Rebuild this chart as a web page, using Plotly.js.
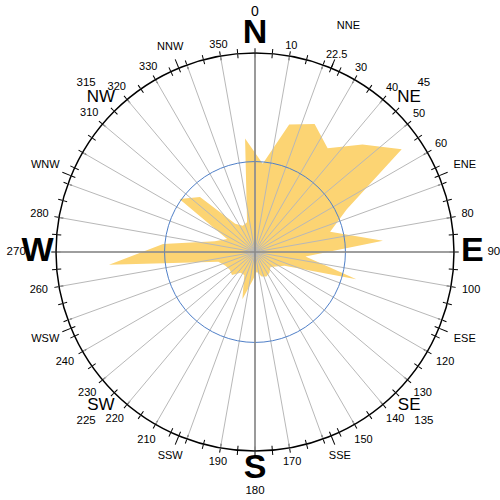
<!DOCTYPE html>
<html><head><meta charset="utf-8">
<script src="https://cdn.plot.ly/plotly-3.0.1.min.js"></script>
<style>html,body{margin:0;padding:0;background:#fff}</style>
</head><body><div id="chart" style="width:500px;height:500px"></div>
<script>
// ---- data ----
const directions = [5,15,25,35,45,55,65,75,85,95,105,115,125,135,145,155,165,175,
                    185,195,205,215,225,235,245,255,265,275,285,295,305,315,325,335,345,355];
const frequency  = [4.9,7.3,7.8,7.0,8.4,9.9,5.6,4.3,7.1,2.8,5.8,1.8,1.4,1.2,1.4,1.5,1.4,1.1,
                    1.6,2.7,1.4,1.4,1.8,1.7,1.8,2.1,8.1,5.1,2.3,1.7,5.1,4.3,1.9,1.6,1.7,6.3];
const cardinalNames  = ['N','E','S','W'];
const cardinalAngles = [0,90,180,270];
const interNames  = ['NE','SE','SW','NW'];
const interAngles = [45,135,225,315];
const vertNames  = ['NNW','SSE','SSW'];
const vertAngles = [337.5,157.5,202.5];
const horizNames  = ['ENE','ESE','WSW','WNW'];
const horizAngles = [67.5,112.5,247.5,292.5];
const nneName = ['NNE'];
const nneAngle = [22.5];
const northDegree = ['0'];
const northAngle = [0];
const degreeLabels = ['45','90','135','180','225','270','315'];
const degreeAngles = [45,90,135,180,225,270,315];
const labeledTicks = [10,22.5,30,40,50,60,80,100,120,130,140,150,170,190,210,220,230,240,260,280,310,320,330,350];
const longTickAngles = [22.5,67.5,112.5,157.5,202.5,247.5,292.5,337.5];
const refCircle = [5];
const rMax = 11;

// ---- derived tick sets ----
const fiveDeg = []; for (let a = 0; a < 360; a += 5) fiveDeg.push(a);
const tenDeg = []; for (let a = 0; a < 360; a += 10) tenDeg.push(a);
const tickOutVals = fiveDeg.concat([22.5]).sort((a,b)=>a-b);

const FONT = 'Arial, "Liberation Sans", sans-serif';
// main plot circle: centre (255,252), radius 199px
const PLOT_R_PX = 199;
const domain = {x:[0.112,0.908], y:[0.098,0.894]};
// label layer: same centre, radius 245px -> same radial scale, wider range
const labelDomain = {x:[0.02,1], y:[0,0.992]};
const pxPerUnit = PLOT_R_PX / rMax;
const labelRMax = 245 / pxPerUnit;

// numeric tick label placement: gap outside the ring grows with the text's width sideways
function tickLabelR(txt, ang) {
  const a = ang * Math.PI / 180;
  const px = 208 + (txt.length * 3 + 2) * Math.abs(Math.sin(a)) + 4 * Math.max(0, -Math.cos(a));
  return px / pxPerUnit;
}

function polarCfg(ang, rad, bg, dom, rmax) {
  return {
    domain: dom || domain,
    bgcolor: bg || 'rgba(0,0,0,0)',
    radialaxis: Object.assign({range:[0,rmax||rMax], showline:false, showticklabels:false, ticks:'', showgrid:false}, rad||{}),
    angularaxis: Object.assign({rotation:90, direction:'clockwise', showline:false, showgrid:false,
                                ticks:'', showticklabels:false, tickmode:'array'}, ang||{})
  };
}

function textTrace(names, angles, r, size, weight) {
  return {type:'scatterpolar', subplot:'polar6', mode:'text', theta:angles,
          r: Array.isArray(r) ? r : angles.map(()=>r),
          text:names, textposition:'middle center', cliponaxis:false, hoverinfo:'skip',
          textfont:{family:FONT, size:size, color:'#000', weight:weight||'normal'}};
}
function holder(sub) {
  return {type:'scatterpolar', subplot:sub, theta:directions, r:frequency, mode:'none', hoverinfo:'skip'};
}

const tickTexts = labeledTicks.map(String);
const tickRs = labeledTicks.map((v,i) => tickLabelR(tickTexts[i], v));

const data = [
  {type:'scatterpolar', subplot:'polar', theta:directions, r:frequency, mode:'lines',
   fill:'toself', fillcolor:'rgb(252,212,115)', line:{width:0, color:'rgb(252,212,115)'}, hoverinfo:'skip'},
  holder('polar2'), holder('polar3'), holder('polar4'), holder('polar5'),
  textTrace(tickTexts, labeledTicks, tickRs, 11),
  textTrace(cardinalNames, cardinalAngles, 12.02, 34, 'bold'),
  textTrace(interNames, interAngles, 12.05, 17),
  textTrace(vertNames, vertAngles, 12.25, 11),
  textTrace(horizNames, horizAngles, 12.55, 11),
  textTrace(nneName, nneAngle, 13.5, 11),
  textTrace(northDegree, northAngle, 13.25, 14),
  textTrace(degreeLabels, degreeAngles, 13.2, 11.5)
];

const layout = {
  width:500, height:500, autosize:false, showlegend:false,
  margin:{l:0,r:0,t:0,b:0}, paper_bgcolor:'#fff',
  font:{family:FONT, color:'#000'},
  polar: polarCfg({ticks:'inside', ticklen:4, tickwidth:1, tickcolor:'#000',
                   tickvals: fiveDeg.concat(longTickAngles)}, null, '#fff'),
  polar2: polarCfg({showgrid:true, gridcolor:'#b8b8b8', gridwidth:1, tickvals:tenDeg},
                   {showgrid:true, gridcolor:'#5080c8', gridwidth:1, tickmode:'array', tickvals:refCircle}),
  polar3: polarCfg({showgrid:true, gridcolor:'#8a8a8a', gridwidth:1.6, tickvals:cardinalAngles}),
  polar4: polarCfg({showline:true, linecolor:'#000', linewidth:1.5, ticks:'outside', ticklen:4,
                   tickwidth:1, tickcolor:'#000', tickvals:tickOutVals}),
  polar5: polarCfg({ticks:'outside', ticklen:9, tickwidth:1, tickcolor:'#000', tickvals:longTickAngles}),
  polar6: polarCfg(null, null, null, labelDomain, labelRMax)
};

Plotly.newPlot('chart', data, layout, {staticPlot:true, displayModeBar:false});
</script></body></html>
